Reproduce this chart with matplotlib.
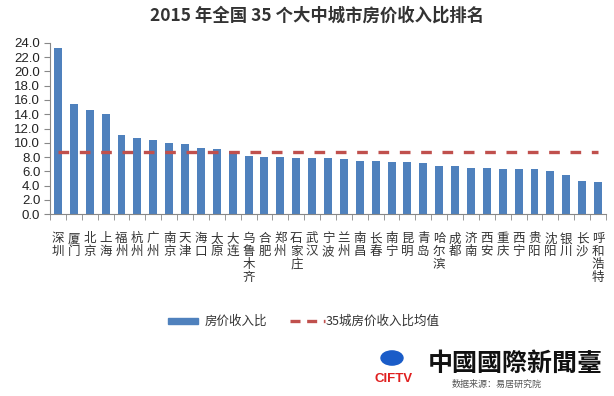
import numpy as np
import matplotlib
matplotlib.use("Agg")
import matplotlib.pyplot as plt
from matplotlib.patches import Circle

plt.rcParams['font.family'] = ['Noto Sans CJK SC', 'DejaVu Sans']

cities = ["深圳", "厦门", "北京", "上海", "福州", "杭州", "广州", "南京", "天津",
          "海口", "太原", "大连", "乌鲁木齐", "合肥", "郑州", "石家庄", "武汉", "宁波",
          "兰州", "南昌", "长春", "南宁", "昆明", "青岛", "哈尔滨", "成都", "济南",
          "西安", "重庆", "西宁", "贵阳", "沈阳", "银川", "长沙", "呼和浩特"]
ratio = [23.3, 15.4, 14.6, 14.0, 11.1, 10.7, 10.4, 10.0, 9.9, 9.3, 9.1, 8.8,
         8.2, 8.0, 8.0, 7.9, 7.9, 7.9, 7.7, 7.5, 7.5, 7.3, 7.3, 7.2, 6.8, 6.8,
         6.5, 6.5, 6.3, 6.3, 6.3, 6.0, 5.5, 4.7, 4.5]
mean_val = 8.7
yticks = np.arange(0, 25, 2)

fig = plt.figure(figsize=(6.14, 3.96), dpi=100)
ax = fig.add_axes([50/614, 1 - 214.3/396, 556/614, 171.6/396])

x = np.arange(len(cities))
ax.bar(x, ratio, width=0.5, color='#4F81BD', zorder=2)
ax.plot(x, [mean_val] * len(x), color='#C0504D', lw=2.4,
        dashes=(3.2, 3.2), zorder=3)

ax.set_xlim(-0.5, len(cities) - 0.5)
ax.set_ylim(0, 24)
ax.set_yticks(yticks)
ax.set_yticklabels([f"{v:.1f}" for v in yticks], fontsize=9.5, family='Liberation Sans',
                   color='#222222')
ax.set_xticks(x)
ax.set_xticklabels(["\n".join(c) for c in cities], fontsize=9, va='top',
                   linespacing=1.0, color='#333333')
ax.set_xticks(np.arange(-0.5, len(cities)), minor=True)
ax.tick_params(axis='x', which='major', length=0, pad=13)
ax.tick_params(axis='x', which='minor', length=4, color='#888888')
ax.tick_params(axis='y', length=4, color='#888888', pad=3)

for s in ['top', 'right']:
    ax.spines[s].set_visible(False)
for s in ['left', 'bottom']:
    ax.spines[s].set_color('#888888')

fig.text(317/614, 1 - 16/396, "2015 年全国 35 个大中城市房价收入比排名", ha='center', va='center',
         fontsize=12.5, fontweight='bold', color='#333333')

# legend
fig.patches.append(plt.Rectangle((168/614, 1 - 324/396), 30/614, 6/396,
                                 color='#4F81BD', transform=fig.transFigure))
fig.text(205/614, 1 - 321/396, "房价收入比", va='center', fontsize=9, color='#333333')
fig.lines.append(plt.Line2D([290/614, 325/614], [1 - 321/396] * 2, color='#C0504D',
                            lw=2.4, dashes=(3, 2), transform=fig.transFigure))
fig.text(326/614, 1 - 321/396, "35城房价收入比均值", va='center', fontsize=9, color='#333333')

# watermark logo
fig.patches.append(Circle((392/614, 1 - 358/396), 11/614, color='#1A5CC8',
                          transform=fig.transFigure))
fig.text(394/614, 1 - 379/396, "CIFTV", ha='center', va='center', fontsize=9.5,
         fontweight='bold', color='#E02020', family='Liberation Sans')
fig.text(428/614, 1 - 364/396, "中國國際新聞臺", va='center', fontsize=18,
         fontweight='bold', color='#111111')
fig.text(452/614, 1 - 384/396, "数据来源：易居研究院", va='center', fontsize=6.5,
         color='#555555')

fig.savefig("out.png", dpi=100)
